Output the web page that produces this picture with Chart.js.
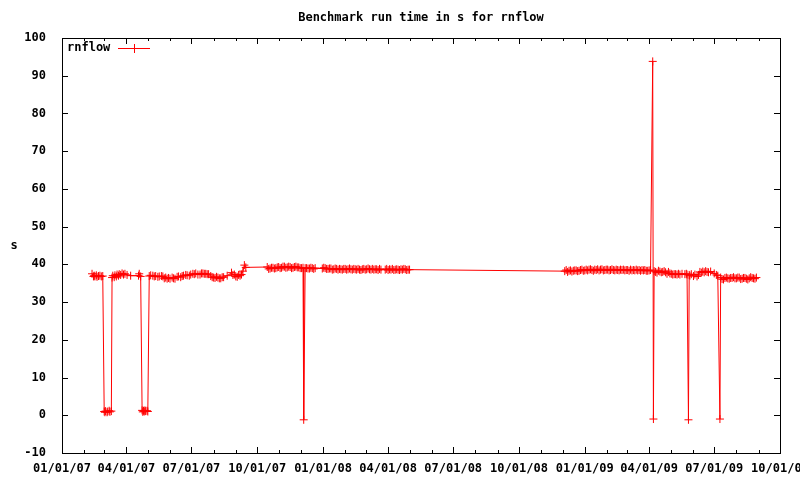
<!DOCTYPE html>
<html>
<head>
<meta charset="utf-8">
<script src="https://cdn.jsdelivr.net/npm/chart.js@4.4.1/dist/chart.umd.min.js"></script>
<style>
  body { margin: 0; background: #fff; }
  canvas { display: block; }
</style>
</head>
<body>
<canvas id="benchChart" width="800" height="480"></canvas>
<script>
// Data
const runDates = [
  '2007-02-12', '2007-02-14', '2007-02-15', '2007-02-16', '2007-02-18', '2007-02-19', '2007-02-21', '2007-02-23', '2007-02-25', '2007-02-27',
  '2007-03-01', '2007-03-02', '2007-03-03', '2007-03-05', '2007-03-06', '2007-03-08', '2007-03-09', '2007-03-11',
  '2007-03-12', '2007-03-13', '2007-03-15', '2007-03-16', '2007-03-18', '2007-03-19', '2007-03-21', '2007-03-22',
  '2007-03-24', '2007-03-26', '2007-03-28', '2007-03-30', '2007-04-02', '2007-04-07',
  '2007-04-18', '2007-04-19', '2007-04-21',
  '2007-04-23', '2007-04-24', '2007-04-25', '2007-04-26', '2007-04-27', '2007-04-28', '2007-04-30', '2007-05-01',
  '2007-05-03', '2007-05-05', '2007-05-08', '2007-05-10', '2007-05-12', '2007-05-15', '2007-05-17', '2007-05-20',
  '2007-05-22', '2007-05-24', '2007-05-26', '2007-05-28', '2007-05-30', '2007-06-01', '2007-06-04', '2007-06-06',
  '2007-06-08', '2007-06-11', '2007-06-13', '2007-06-16', '2007-06-18', '2007-06-20', '2007-06-23', '2007-06-25',
  '2007-06-28', '2007-06-30', '2007-07-03', '2007-07-05', '2007-07-07', '2007-07-10', '2007-07-13', '2007-07-15',
  '2007-07-17', '2007-07-19', '2007-07-21', '2007-07-23', '2007-07-25', '2007-07-28', '2007-07-30', '2007-08-01',
  '2007-08-03', '2007-08-05', '2007-08-07', '2007-08-09', '2007-08-11', '2007-08-13', '2007-08-15', '2007-08-20',
  '2007-08-26', '2007-08-28', '2007-08-30', '2007-09-01', '2007-09-03', '2007-09-05', '2007-09-07', '2007-09-09',
  '2007-09-11', '2007-09-13', '2007-09-15',
  '2007-10-15', '2007-10-17', '2007-10-19', '2007-10-21', '2007-10-23', '2007-10-25', '2007-10-27', '2007-10-29',
  '2007-10-31', '2007-11-02', '2007-11-04', '2007-11-06', '2007-11-08', '2007-11-10', '2007-11-12', '2007-11-14',
  '2007-11-16', '2007-11-18', '2007-11-20', '2007-11-22', '2007-11-24', '2007-11-26', '2007-11-28', '2007-11-30',
  '2007-12-02', '2007-12-04', '2007-12-05', '2007-12-07',
  '2007-12-09', '2007-12-11', '2007-12-13', '2007-12-15', '2007-12-17', '2007-12-19', '2007-12-21',
  '2007-12-31', '2008-01-02', '2008-01-04', '2008-01-06', '2008-01-08', '2008-01-10', '2008-01-12', '2008-01-14',
  '2008-01-16', '2008-01-18', '2008-01-20', '2008-01-22', '2008-01-24', '2008-01-26', '2008-01-28', '2008-01-30',
  '2008-02-01', '2008-02-03', '2008-02-05', '2008-02-07', '2008-02-09', '2008-02-11', '2008-02-13', '2008-02-15',
  '2008-02-17', '2008-02-19', '2008-02-21', '2008-02-23', '2008-02-25', '2008-02-27', '2008-02-29', '2008-03-02',
  '2008-03-04', '2008-03-06', '2008-03-08', '2008-03-10', '2008-03-12', '2008-03-14', '2008-03-16', '2008-03-18',
  '2008-03-20', '2008-03-22', '2008-03-28', '2008-03-30', '2008-04-01', '2008-04-03', '2008-04-05', '2008-04-07',
  '2008-04-09', '2008-04-11', '2008-04-13', '2008-04-15', '2008-04-17', '2008-04-19', '2008-04-21', '2008-04-23',
  '2008-04-25', '2008-04-27', '2008-04-29', '2008-05-01',
  '2008-12-04', '2008-12-06', '2008-12-08', '2008-12-10', '2008-12-12', '2008-12-14', '2008-12-16', '2008-12-18',
  '2008-12-20', '2008-12-22', '2008-12-24', '2008-12-26', '2008-12-28', '2008-12-30', '2009-01-01', '2009-01-03',
  '2009-01-05', '2009-01-07', '2009-01-09', '2009-01-11', '2009-01-13', '2009-01-15', '2009-01-17', '2009-01-19',
  '2009-01-21', '2009-01-23', '2009-01-25', '2009-01-27', '2009-01-29', '2009-01-31', '2009-02-02', '2009-02-04',
  '2009-02-06', '2009-02-08', '2009-02-10', '2009-02-12', '2009-02-14', '2009-02-16', '2009-02-18', '2009-02-20',
  '2009-02-22', '2009-02-24', '2009-02-26', '2009-02-28', '2009-03-02', '2009-03-04', '2009-03-06', '2009-03-08',
  '2009-03-10', '2009-03-12', '2009-03-14', '2009-03-16', '2009-03-18', '2009-03-20', '2009-03-22', '2009-03-24',
  '2009-03-26', '2009-03-28', '2009-03-30', '2009-04-01', '2009-04-03',
  '2009-04-06', '2009-04-07',
  '2009-04-08', '2009-04-10', '2009-04-12', '2009-04-14', '2009-04-16', '2009-04-18', '2009-04-20', '2009-04-22',
  '2009-04-24', '2009-04-26', '2009-04-28', '2009-04-30', '2009-05-02', '2009-05-04', '2009-05-06', '2009-05-08',
  '2009-05-10', '2009-05-12', '2009-05-14', '2009-05-17', '2009-05-21', '2009-05-23', '2009-05-24',
  '2009-05-26', '2009-05-27', '2009-05-28', '2009-05-30', '2009-06-02', '2009-06-04', '2009-06-07', '2009-06-09',
  '2009-06-11', '2009-06-13', '2009-06-15', '2009-06-17', '2009-06-19', '2009-06-21', '2009-06-23', '2009-06-26',
  '2009-07-01', '2009-07-04', '2009-07-06', '2009-07-09',
  '2009-07-10', '2009-07-12', '2009-07-14', '2009-07-16', '2009-07-18', '2009-07-20', '2009-07-22', '2009-07-24',
  '2009-07-26', '2009-07-28', '2009-07-30', '2009-08-01', '2009-08-03', '2009-08-05', '2009-08-07', '2009-08-09',
  '2009-08-11', '2009-08-13', '2009-08-15', '2009-08-17', '2009-08-19', '2009-08-21', '2009-08-23', '2009-08-25',
  '2009-08-27', '2009-08-29'
];
const runTimes = [
  37.5, 36.8, 37.0, 36.8, 37.1, 36.7, 36.9, 37.0, 36.8, 36.9,
  1.0, 0.8, 1.1, 0.8, 1.0, 1.2, 0.9, 1.1,
  36.5, 37.0, 36.6, 37.1, 36.8, 37.3, 37.0, 37.4,
  37.2, 37.6, 37.3, 37.5, 37.2, 37.0,
  37.0, 37.5, 36.8,
  1.3, 0.9, 1.2, 1.0, 1.3, 1.1, 1.2, 1.0,
  36.9, 37.1, 37.0, 36.8, 36.9, 36.7, 36.8, 36.9,
  36.8, 36.3, 36.5, 36.2, 36.4, 36.2, 36.5, 36.3,
  36.2, 36.7, 36.8, 36.6, 36.9, 37.0, 37.2, 37.1,
  37.0, 37.3, 37.5, 37.4, 37.6, 37.3, 37.3, 37.6,
  37.6, 37.5, 37.5, 37.4, 37.4, 36.9, 36.6, 36.5,
  36.4, 36.7, 36.5, 36.3, 36.3, 36.6, 36.6, 37.0,
  37.8, 37.2, 37.3, 36.8, 36.7, 37.2, 37.0, 37.3,
  38.2, 39.8, 39.2,
  39.3, 38.8, 38.9, 39.1, 39.1, 38.9, 39.0, 39.2,
  39.3, 39.0, 39.1, 39.4, 39.4, 39.1, 39.2, 39.4,
  39.3, 39.0, 39.1, 39.3, 39.4, 39.2, 39.2, 39.0,
  39.0, 39.1, -1.2, 39.0,
  39.0, 38.9, 38.9, 39.1, 39.0, 38.8, 39.0,
  38.9, 39.1, 39.0, 38.8, 38.8, 38.9, 38.9, 38.6,
  38.7, 38.9, 38.8, 38.6, 38.8, 38.7, 38.6, 38.8,
  38.8, 38.6, 38.7, 38.9, 38.7, 38.6, 38.8, 38.7,
  38.6, 38.8, 38.6, 38.5, 38.7, 38.8, 38.6, 38.7,
  38.9, 38.7, 38.6, 38.8, 38.6, 38.7, 38.7, 38.5,
  38.8, 38.6, 38.6, 38.8, 38.5, 38.7, 38.6, 38.8,
  38.5, 38.6, 38.7, 38.6, 38.5, 38.7, 38.6, 38.8,
  38.7, 38.5, 38.6, 38.6,
  38.2, 38.5, 38.0, 38.3, 38.4, 38.1, 38.3, 38.4,
  38.4, 38.2, 38.3, 38.5, 38.6, 38.3, 38.4, 38.6,
  38.4, 38.6, 38.7, 38.5, 38.3, 38.6, 38.5, 38.7,
  38.4, 38.6, 38.7, 38.4, 38.5, 38.6, 38.6, 38.4,
  38.5, 38.7, 38.5, 38.4, 38.6, 38.5, 38.4, 38.6,
  38.5, 38.6, 38.4, 38.5, 38.5, 38.3, 38.6, 38.4,
  38.5, 38.4, 38.6, 38.4, 38.5, 38.3, 38.5, 38.4,
  38.5, 38.3, 38.3, 38.4, 38.5,
  93.8, -1.0,
  38.2, 38.0, 37.8, 38.3, 38.1, 37.9, 38.0, 38.2,
  37.9, 37.5, 38.0, 37.6, 37.5, 37.3, 37.4, 37.4,
  37.3, 37.5, 37.3, 37.5, 37.4, 37.5, 37.3,
  -1.2, 37.2, 37.0, 37.4, 36.9, 37.3, 36.8, 37.2,
  38.0, 37.8, 38.1, 37.9, 38.2, 38.0, 37.9, 38.1,
  37.6, 37.2, 37.0, -1.0,
  36.5, 36.1, 36.0, 36.4, 36.5, 36.3, 36.2, 36.4,
  36.4, 36.6, 36.3, 36.3, 36.5, 36.5, 36.1, 36.2,
  36.4, 36.4, 36.2, 36.0, 36.3, 36.6, 36.4, 36.3,
  36.2, 36.5
];
const xTickDates = ['2007-01-01', '2007-04-01', '2007-07-01', '2007-10-01', '2008-01-01', '2008-04-01',
  '2008-07-01', '2008-10-01', '2009-01-01', '2009-04-01', '2009-07-01', '2009-10-01'];
const yMin = -10, yMax = 100, yStep = 10;

const FONT = '"DejaVu Sans Mono", monospace';

function dayNum(s) {
  const [y, m, d] = s.split('-').map(Number);
  return (Date.UTC(y, m - 1, d) - Date.UTC(2007, 0, 1)) / 86400000;
}
function fmtDate(s) {
  const [y, m, d] = s.split('-');
  return m + '/' + d + '/' + y.slice(2);
}

const xTickDays = xTickDates.map(dayNum);
const tickLabelByDay = {};
xTickDates.forEach(s => { tickLabelByDay[dayNum(s)] = fmtDate(s); });

// monthly minor ticks between the quarter ticks
const monthDays = [];
for (let yr = 2007; yr <= 2009; yr++) {
  for (let mo = 1; mo <= 12; mo++) {
    const s = yr + '-' + String(mo).padStart(2, '0') + '-01';
    if (dayNum(s) <= xTickDays[xTickDays.length - 1]) monthDays.push(dayNum(s));
  }
}

// frame, inward ticks, title, y label and legend like gnuplot
const gnuplotFrame = {
  id: 'gnuplotFrame',
  beforeDatasetsDraw(chart) {
    const { ctx, chartArea: a, scales: { x, y } } = chart;
    ctx.save();
    ctx.strokeStyle = '#000';
    ctx.lineWidth = 1;
    ctx.strokeRect(Math.round(a.left) + 0.5, Math.round(a.top) + 0.5,
      Math.round(a.right - a.left), Math.round(a.bottom - a.top));
    ctx.beginPath();
    for (let v = yMin; v <= yMax; v += yStep) {
      const py = Math.round(y.getPixelForValue(v)) + 0.5;
      ctx.moveTo(a.left, py); ctx.lineTo(a.left + 6, py);
      ctx.moveTo(a.right - 6, py); ctx.lineTo(a.right, py);
    }
    monthDays.forEach(d => {
      const len = xTickDays.includes(d) ? 6 : 3;
      const px = Math.round(x.getPixelForValue(d)) + 0.5;
      ctx.moveTo(px, a.bottom); ctx.lineTo(px, a.bottom - len);
      ctx.moveTo(px, a.top); ctx.lineTo(px, a.top + len);
    });
    ctx.stroke();
    ctx.restore();
  },
  afterDraw(chart) {
    const { ctx, chartArea: a } = chart;
    ctx.save();
    ctx.fillStyle = '#000';
    ctx.font = 'bold 12px ' + FONT;
    ctx.textBaseline = 'middle';
    ctx.textAlign = 'center';
    ctx.fillText('Benchmark run time in s for rnflow', (a.left + a.right) / 2, 18);
    ctx.fillText('s', 14, (a.top + a.bottom) / 2);
    // legend
    ctx.textAlign = 'left';
    ctx.fillText(chart.data.datasets[0].label, 67, 48);
    ctx.strokeStyle = '#ff0000';
    ctx.lineWidth = 1;
    ctx.beginPath();
    ctx.moveTo(118, 48.5); ctx.lineTo(150, 48.5);
    ctx.moveTo(134.5, 44); ctx.lineTo(134.5, 53);
    ctx.stroke();
    ctx.restore();
  }
};

new Chart(document.getElementById('benchChart').getContext('2d'), {
  type: 'line',
  data: {
    datasets: [{
      label: 'rnflow',
      data: runDates.map((d, i) => ({ x: dayNum(d), y: runTimes[i] })),
      borderColor: '#ff0000',
      backgroundColor: '#ff0000',
      borderWidth: 1,
      pointStyle: 'cross',
      pointRadius: 4,
      pointBorderWidth: 1,
      tension: 0,
      fill: false
    }]
  },
  options: {
    responsive: false,
    animation: false,
    devicePixelRatio: 1,
    layout: { padding: { top: 38, right: 20, left: 0, bottom: 0 } },
    plugins: {
      legend: { display: false },
      title: { display: false },
      tooltip: { enabled: false }
    },
    scales: {
      x: {
        type: 'linear',
        min: xTickDays[0],
        max: xTickDays[xTickDays.length - 1],
        grid: { display: false },
        border: { display: false },
        afterBuildTicks(scale) {
          scale.ticks = xTickDays.map(v => ({ value: v }));
        },
        afterFit(scale) {
          scale.height = 27;
          scale.paddingLeft = 0;
          scale.paddingRight = 0;
        },
        ticks: {
          autoSkip: false,
          maxRotation: 0,
          padding: 1,
          color: '#000',
          font: { family: FONT, size: 12, weight: 'bold' },
          callback: v => tickLabelByDay[v] || ''
        }
      },
      y: {
        min: yMin,
        max: yMax,
        grid: { display: false },
        border: { display: false },
        afterFit(scale) {
          scale.width = 62;
          scale.paddingTop = 0;
          scale.paddingBottom = 0;
        },
        ticks: {
          stepSize: yStep,
          padding: 8,
          color: '#000',
          font: { family: FONT, size: 12, weight: 'bold' }
        }
      }
    }
  },
  plugins: [gnuplotFrame]
});
</script>
</body>
</html>
